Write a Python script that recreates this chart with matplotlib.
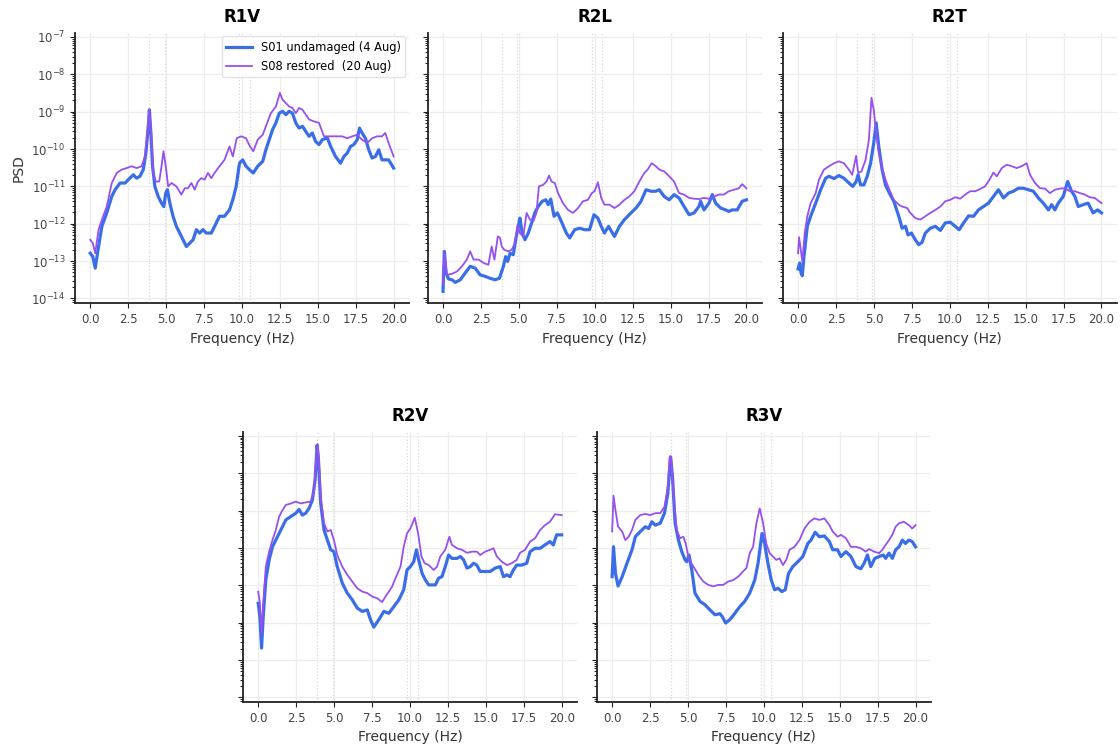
import numpy as np
import matplotlib.pyplot as plt

# values as log10(PSD)
f_r1v_s01 = [0.00, 0.17, 0.33, 0.55, 0.77, 1.09, 1.42, 1.64, 1.97, 2.30, 2.51, 2.84, 3.06, 3.28, 3.50, 3.67,
             3.83, 3.90, 4.00, 4.11, 4.26, 4.48, 4.70, 4.85, 4.98, 5.09, 5.25, 5.46, 5.68, 6.01, 6.34, 6.56,
             6.78, 7.00, 7.21, 7.43, 7.65, 7.98, 8.20, 8.52, 8.85, 9.18, 9.40, 9.62, 9.84, 10.05, 10.27, 10.49,
             10.75, 11.04, 11.37, 11.58, 11.80, 12.02, 12.24, 12.46, 12.68, 12.90, 13.11, 13.33, 13.55, 13.77,
             13.99, 14.21, 14.43, 14.64, 14.86, 15.08, 15.30, 15.63, 15.85, 16.17, 16.50, 16.72, 16.94, 17.16,
             17.38, 17.60, 17.75, 17.92, 18.14, 18.36, 18.58, 18.80, 19.02, 19.23, 19.45, 19.67, 20.00]
lg_r1v_s01 = [-12.79, -12.88, -13.19, -12.61, -12.07, -11.71, -11.27, -11.09, -10.91, -10.91, -10.82, -10.69,
              -10.78, -10.73, -10.55, -10.11, -9.39, -8.95, -9.57, -10.46, -11.00, -11.27, -11.45, -11.54,
              -11.18, -11.09, -11.45, -11.80, -12.07, -12.34, -12.61, -12.52, -12.43, -12.16, -12.25, -12.16,
              -12.25, -12.25, -12.07, -11.80, -11.80, -11.63, -11.36, -11.00, -10.38, -10.29, -10.46, -10.55,
              -10.64, -10.46, -10.33, -10.02, -9.75, -9.48, -9.30, -9.04, -8.99, -9.08, -8.99, -9.04, -9.30,
              -9.44, -9.39, -9.53, -9.66, -9.57, -9.80, -9.88, -9.75, -9.70, -9.93, -10.20, -10.38, -10.20,
              -10.11, -9.93, -9.88, -9.75, -9.44, -9.57, -9.71, -10.02, -10.24, -10.20, -10.02, -10.29, -10.29,
              -10.29, -10.51]
f_r1v_s08 = [0.00, 0.17, 0.33, 0.55, 0.77, 1.09, 1.42, 1.75, 2.08, 2.40, 2.73, 3.06, 3.39, 3.61, 3.76, 3.90,
             4.04, 4.15, 4.33, 4.55, 4.70, 4.83, 4.98, 5.14, 5.36, 5.68, 6.01, 6.23, 6.45, 6.67, 6.89, 7.10,
             7.32, 7.54, 7.76, 7.98, 8.20, 8.52, 8.85, 9.18, 9.40, 9.66, 9.95, 10.27, 10.53, 10.75, 11.04,
             11.37, 11.58, 11.91, 12.24, 12.50, 12.68, 12.90, 13.11, 13.33, 13.55, 13.77, 13.99, 14.21, 14.43,
             14.75, 15.08, 15.41, 15.63, 15.96, 16.28, 16.61, 16.94, 17.27, 17.60, 17.92, 18.25, 18.58, 18.91,
             19.23, 19.45, 19.67, 20.00]
lg_r1v_s08 = [-12.43, -12.52, -12.79, -12.16, -11.89, -11.54, -10.91, -10.64, -10.55, -10.51, -10.46, -10.51,
              -10.46, -10.20, -9.57, -8.95, -9.75, -10.64, -10.87, -10.87, -10.46, -10.06, -10.46, -11.00,
              -10.91, -11.00, -11.22, -11.05, -11.05, -10.91, -11.09, -10.87, -10.78, -10.82, -10.64, -10.78,
              -10.64, -10.46, -10.29, -9.93, -10.20, -9.71, -9.66, -9.71, -9.93, -10.06, -9.75, -9.62, -9.39,
              -9.04, -8.86, -8.50, -8.68, -8.77, -8.86, -8.90, -9.04, -8.90, -8.95, -9.08, -9.21, -9.26, -9.30,
              -9.66, -9.66, -9.66, -9.66, -9.66, -9.71, -9.66, -9.62, -9.75, -9.84, -9.71, -9.66, -9.66, -9.57,
              -9.84, -10.20]

f_r2l_s01 = [0.00, 0.09, 0.20, 0.37, 0.59, 0.81, 1.14, 1.46, 1.79, 2.12, 2.45, 2.78, 3.10, 3.43, 3.72, 3.98,
             4.13, 4.26, 4.42, 4.63, 4.79, 4.96, 5.07, 5.22, 5.40, 5.62, 5.84, 6.05, 6.27, 6.54, 6.78, 6.93,
             7.10, 7.32, 7.54, 7.80, 8.13, 8.35, 8.68, 9.01, 9.33, 9.66, 9.95, 10.21, 10.43, 10.64, 10.91,
             11.30, 11.63, 11.96, 12.39, 12.72, 13.05, 13.38, 13.70, 14.03, 14.25, 14.58, 14.91, 15.23, 15.56,
             15.89, 16.22, 16.55, 16.87, 16.98, 17.20, 17.53, 17.75, 17.97, 18.30, 18.62, 18.84, 19.06, 19.39,
             19.72, 20.00]
lg_r2l_s01 = [-13.81, -12.74, -13.32, -13.48, -13.50, -13.57, -13.50, -13.32, -13.14, -13.19, -13.37, -13.41,
              -13.46, -13.50, -13.46, -13.14, -12.88, -13.01, -12.79, -12.83, -12.43, -12.07, -11.85, -12.25,
              -12.43, -12.25, -11.98, -11.71, -11.54, -11.40, -11.36, -11.49, -11.34, -11.80, -11.71, -11.94,
              -12.25, -12.38, -12.16, -12.12, -12.16, -12.16, -11.76, -11.85, -12.07, -12.25, -12.07, -12.34,
              -12.07, -11.89, -11.71, -11.58, -11.40, -11.09, -11.13, -11.13, -11.09, -11.27, -11.36, -11.22,
              -11.31, -11.54, -11.76, -11.71, -11.54, -11.40, -11.63, -11.45, -11.22, -11.45, -11.58, -11.63,
              -11.67, -11.63, -11.63, -11.40, -11.36]
f_r2l_s08 = [0.00, 0.09, 0.26, 0.59, 0.92, 1.25, 1.57, 1.79, 2.01, 2.34, 2.67, 2.99, 3.21, 3.39, 3.61, 3.76,
             3.87, 4.04, 4.31, 4.52, 4.74, 4.92, 5.07, 5.29, 5.51, 5.73, 5.95, 6.16, 6.32, 6.60, 6.82, 6.99,
             7.15, 7.37, 7.58, 7.91, 8.24, 8.57, 8.90, 9.22, 9.55, 9.81, 9.99, 10.21, 10.43, 10.64, 10.97,
             11.30, 11.63, 11.96, 12.28, 12.61, 12.94, 13.27, 13.49, 13.75, 14.03, 14.25, 14.58, 14.91, 15.23,
             15.56, 15.89, 16.22, 16.55, 16.87, 17.20, 17.53, 17.86, 18.19, 18.51, 18.84, 19.17, 19.50, 19.72,
             20.00]
lg_r2l_s08 = [-13.63, -12.79, -13.37, -13.34, -13.28, -13.14, -12.96, -12.74, -12.96, -12.96, -13.05, -13.10,
              -12.61, -12.96, -12.34, -12.38, -12.61, -12.70, -12.74, -12.70, -12.52, -12.03, -12.25, -12.34,
              -11.71, -11.89, -11.94, -11.71, -11.00, -10.96, -10.87, -10.71, -10.87, -10.91, -11.18, -11.45,
              -11.63, -11.71, -11.58, -11.40, -11.36, -11.18, -11.13, -10.89, -11.31, -11.49, -11.49, -11.58,
              -11.49, -11.36, -11.27, -11.13, -10.87, -10.64, -10.55, -10.38, -10.46, -10.55, -10.60, -10.73,
              -10.87, -11.18, -11.22, -11.31, -11.33, -11.34, -11.31, -11.33, -11.27, -11.22, -11.22, -11.13,
              -11.09, -11.05, -10.94, -11.05]

f_r2t_s01 = [0.00, 0.11, 0.20, 0.28, 0.39, 0.61, 0.83, 1.16, 1.49, 1.82, 2.04, 2.37, 2.69, 3.02, 3.35, 3.61,
             3.83, 3.96, 4.12, 4.34, 4.56, 4.78, 4.99, 5.15, 5.32, 5.54, 5.76, 6.02, 6.31, 6.64, 6.86, 7.08,
             7.25, 7.47, 7.73, 7.95, 8.17, 8.39, 8.72, 9.05, 9.38, 9.70, 10.03, 10.36, 10.62, 10.91, 11.24,
             11.57, 11.89, 12.22, 12.55, 12.88, 13.21, 13.54, 13.87, 14.20, 14.52, 14.85, 15.18, 15.51, 15.84,
             16.17, 16.50, 16.72, 16.93, 17.15, 17.48, 17.77, 18.03, 18.25, 18.47, 18.79, 19.12, 19.45, 19.74,
             20.00]
lg_r2t_s01 = [-13.21, -13.05, -13.32, -13.39, -12.88, -12.07, -11.80, -11.45, -11.09, -10.78, -10.73, -10.79,
              -10.71, -10.78, -10.91, -11.00, -10.87, -10.69, -10.96, -10.96, -10.73, -10.38, -9.84, -9.30,
              -9.93, -10.55, -10.96, -11.18, -11.40, -11.80, -12.12, -12.07, -12.30, -12.25, -12.43, -12.56,
              -12.50, -12.25, -12.12, -12.07, -12.18, -11.98, -11.96, -12.07, -12.16, -11.98, -11.79, -11.80,
              -11.63, -11.54, -11.45, -11.27, -11.09, -11.31, -11.18, -11.13, -11.05, -11.05, -11.09, -11.13,
              -11.31, -11.45, -11.63, -11.49, -11.63, -11.45, -11.27, -10.87, -11.13, -11.27, -11.54, -11.49,
              -11.45, -11.71, -11.63, -11.71]
f_r2t_s08 = [0.00, 0.07, 0.18, 0.28, 0.44, 0.61, 0.83, 1.16, 1.38, 1.71, 2.04, 2.37, 2.69, 3.02, 3.35, 3.57,
             3.83, 3.96, 4.18, 4.45, 4.67, 4.84, 4.99, 5.15, 5.32, 5.54, 5.76, 6.02, 6.31, 6.64, 6.86, 7.19,
             7.40, 7.73, 8.06, 8.39, 8.72, 9.05, 9.38, 9.70, 10.03, 10.36, 10.69, 11.02, 11.35, 11.68, 12.00,
             12.33, 12.62, 12.88, 13.10, 13.43, 13.76, 14.09, 14.41, 14.74, 15.07, 15.29, 15.62, 15.95, 16.28,
             16.60, 16.93, 17.26, 17.59, 17.92, 18.25, 18.58, 18.90, 19.23, 19.56, 20.00]
lg_r2t_s08 = [-12.79, -12.36, -12.70, -13.01, -12.25, -11.80, -11.45, -11.18, -10.82, -10.55, -10.46, -10.38,
              -10.33, -10.38, -10.55, -10.69, -10.18, -10.64, -10.60, -10.29, -9.75, -8.63, -8.95, -9.57,
              -10.11, -10.51, -10.82, -11.09, -11.36, -11.49, -11.54, -11.58, -11.71, -11.85, -11.89, -11.80,
              -11.71, -11.63, -11.54, -11.40, -11.36, -11.29, -11.33, -11.22, -11.13, -11.13, -11.07, -11.00,
              -10.82, -10.63, -10.73, -10.51, -10.42, -10.46, -10.51, -10.46, -10.38, -10.69, -10.91, -11.05,
              -11.06, -11.18, -11.09, -11.06, -11.05, -11.13, -11.13, -11.18, -11.22, -11.29, -11.31, -11.45]

f_r2v_s01 = [0.00, 0.11, 0.22, 0.33, 0.50, 0.72, 0.94, 1.27, 1.60, 1.82, 2.15, 2.48, 2.69, 2.91, 3.13, 3.35,
             3.57, 3.75, 3.88, 3.96, 4.12, 4.34, 4.56, 4.78, 4.99, 5.21, 5.54, 5.87, 6.20, 6.53, 6.86, 7.19,
             7.40, 7.62, 7.95, 8.28, 8.61, 8.94, 9.27, 9.59, 9.81, 10.03, 10.25, 10.43, 10.58, 10.80, 11.02,
             11.24, 11.46, 11.68, 11.89, 12.11, 12.33, 12.55, 12.77, 13.10, 13.32, 13.54, 13.76, 13.98, 14.19,
             14.41, 14.63, 14.96, 15.29, 15.62, 15.95, 16.17, 16.39, 16.60, 16.82, 17.04, 17.37, 17.70, 17.92,
             18.25, 18.58, 18.90, 19.23, 19.45, 19.67, 20.00]
lg_r2v_s01 = [-11.48, -11.84, -12.68, -11.84, -10.86, -10.32, -9.97, -9.70, -9.43, -9.25, -9.16, -9.07, -8.97,
              -9.12, -9.07, -8.94, -8.72, -8.18, -7.25, -7.56, -8.81, -9.52, -9.79, -10.05, -10.10, -10.50,
              -10.94, -11.21, -11.39, -11.61, -11.70, -11.66, -11.92, -12.12, -11.92, -11.70, -11.75, -11.57,
              -11.39, -11.12, -10.59, -10.50, -10.37, -10.05, -10.32, -10.68, -10.86, -10.99, -10.99, -10.99,
              -10.81, -10.77, -10.50, -10.19, -10.28, -10.28, -10.23, -10.32, -10.54, -10.50, -10.41, -10.46,
              -10.63, -10.63, -10.63, -10.54, -10.50, -10.77, -10.72, -10.77, -10.59, -10.46, -10.46, -10.41,
              -10.10, -10.01, -10.01, -9.92, -9.83, -9.92, -9.65, -9.65]
f_r2v_s08 = [0.00, 0.11, 0.22, 0.33, 0.50, 0.72, 0.94, 1.16, 1.38, 1.60, 1.82, 2.15, 2.48, 2.80, 3.13, 3.46,
             3.68, 3.83, 3.92, 4.01, 4.12, 4.34, 4.56, 4.78, 4.99, 5.21, 5.54, 5.87, 6.20, 6.53, 6.86, 7.19,
             7.51, 7.84, 8.17, 8.39, 8.61, 8.83, 9.05, 9.38, 9.59, 9.81, 10.03, 10.32, 10.54, 10.76, 10.97,
             11.24, 11.57, 11.79, 12.00, 12.33, 12.60, 12.77, 13.10, 13.43, 13.76, 14.09, 14.41, 14.63, 14.96,
             15.29, 15.51, 15.73, 16.06, 16.39, 16.71, 17.04, 17.26, 17.59, 17.92, 18.25, 18.58, 18.90, 19.23,
             19.56, 20.00]
lg_r2v_s08 = [-11.17, -11.48, -12.28, -11.48, -10.50, -10.10, -9.79, -9.52, -9.16, -8.99, -8.85, -8.81, -8.76,
              -8.81, -8.78, -8.76, -8.45, -7.56, -7.22, -7.74, -8.63, -9.34, -9.56, -9.52, -9.79, -10.19,
              -10.50, -10.72, -10.90, -11.08, -11.17, -11.21, -11.30, -11.35, -11.45, -11.30, -11.17, -11.03,
              -10.81, -10.50, -9.97, -9.61, -9.48, -9.19, -9.61, -10.23, -10.41, -10.46, -10.59, -10.50, -10.23,
              -10.05, -9.70, -9.92, -10.01, -10.05, -10.13, -10.10, -10.10, -10.19, -10.10, -10.05, -10.01,
              -10.23, -10.37, -10.46, -10.41, -10.32, -10.13, -10.05, -9.83, -9.74, -9.52, -9.39, -9.30, -9.10,
              -9.12]

f_r3v_s01 = [0.00, 0.09, 0.22, 0.39, 0.66, 0.98, 1.31, 1.53, 1.86, 2.19, 2.40, 2.62, 2.84, 3.17, 3.45, 3.67,
             3.85, 3.98, 4.15, 4.37, 4.59, 4.81, 4.92, 5.07, 5.25, 5.46, 5.79, 6.12, 6.45, 6.78, 7.10, 7.26,
             7.48, 7.76, 8.09, 8.42, 8.74, 9.07, 9.40, 9.62, 9.79, 9.88, 10.05, 10.27, 10.49, 10.71, 10.93,
             11.19, 11.41, 11.63, 11.91, 12.24, 12.57, 12.90, 13.11, 13.38, 13.66, 13.99, 14.32, 14.54, 14.86,
             15.08, 15.41, 15.74, 16.07, 16.39, 16.61, 16.83, 17.05, 17.31, 17.60, 17.88, 18.03, 18.25, 18.47,
             18.69, 18.91, 19.13, 19.34, 19.56, 19.78, 20.00]
lg_r3v_s01 = [-10.77, -9.97, -10.68, -11.02, -10.77, -10.41, -10.05, -9.70, -9.56, -9.43, -9.48, -9.30, -9.39,
              -9.34, -9.07, -8.54, -7.56, -8.10, -9.34, -9.79, -10.10, -10.32, -10.37, -10.19, -10.59, -11.21,
              -11.43, -11.52, -11.66, -11.79, -11.76, -11.84, -12.01, -11.92, -11.75, -11.57, -11.43, -11.21,
              -10.86, -10.41, -9.88, -9.61, -9.88, -10.41, -10.86, -11.12, -11.08, -11.17, -11.12, -10.68,
              -10.50, -10.37, -10.23, -9.88, -9.79, -9.58, -9.70, -9.68, -9.83, -10.05, -10.05, -10.23, -10.10,
              -10.23, -10.50, -10.56, -10.41, -10.19, -10.50, -10.28, -10.23, -10.19, -10.28, -10.14, -10.28,
              -10.05, -9.97, -9.79, -9.88, -9.79, -9.83, -9.97]
f_r3v_s08 = [0.00, 0.09, 0.22, 0.39, 0.66, 0.87, 1.09, 1.31, 1.53, 1.86, 2.19, 2.51, 2.84, 3.17, 3.45, 3.67,
             3.80, 3.89, 4.04, 4.26, 4.48, 4.70, 4.85, 5.07, 5.36, 5.68, 6.01, 6.34, 6.67, 6.99, 7.32, 7.65,
             7.98, 8.31, 8.63, 8.85, 9.07, 9.29, 9.51, 9.73, 9.95, 10.16, 10.38, 10.60, 10.82, 11.04, 11.26,
             11.48, 11.69, 12.02, 12.35, 12.68, 13.01, 13.33, 13.66, 13.99, 14.32, 14.54, 14.86, 15.08, 15.41,
             15.74, 16.07, 16.39, 16.72, 16.94, 17.27, 17.60, 17.81, 18.03, 18.25, 18.47, 18.69, 18.91, 19.23,
             19.56, 19.78, 20.00]
lg_r3v_s08 = [-9.56, -8.60, -8.99, -9.43, -9.56, -9.79, -9.70, -9.52, -9.25, -9.12, -9.09, -9.12, -9.07, -9.07,
              -8.90, -8.36, -7.56, -7.56, -8.54, -9.52, -9.74, -9.70, -9.88, -10.32, -10.50, -10.72, -10.90,
              -10.99, -11.03, -10.99, -10.99, -10.90, -10.86, -10.77, -10.63, -10.54, -10.14, -9.97, -9.34,
              -8.94, -9.34, -9.88, -10.14, -10.23, -10.32, -10.28, -10.46, -10.32, -10.05, -9.97, -9.79, -9.48,
              -9.30, -9.21, -9.25, -9.21, -9.39, -9.56, -9.70, -9.65, -9.74, -9.97, -9.97, -10.01, -10.10,
              -10.03, -10.10, -10.14, -10.05, -9.92, -9.79, -9.65, -9.43, -9.34, -9.30, -9.39, -9.48, -9.39]

titles = ['R1V', 'R2L', 'R2T', 'R2V', 'R3V']
series = {
    'R1V': (f_r1v_s01, lg_r1v_s01, f_r1v_s08, lg_r1v_s08),
    'R2L': (f_r2l_s01, lg_r2l_s01, f_r2l_s08, lg_r2l_s08),
    'R2T': (f_r2t_s01, lg_r2t_s01, f_r2t_s08, lg_r2t_s08),
    'R2V': (f_r2v_s01, lg_r2v_s01, f_r2v_s08, lg_r2v_s08),
    'R3V': (f_r3v_s01, lg_r3v_s01, f_r3v_s08, lg_r3v_s08),
}
mode_freqs = [3.9, 4.9, 9.8, 10.5]
label_s01 = 'S01 undamaged (4 Aug)'
label_s08 = 'S08 restored  (20 Aug)'

fig = plt.figure(figsize=(11.2, 7.47), dpi=100)
boxes = [(0.067, 0.594), (0.382, 0.594), (0.699, 0.594), (0.217, 0.060), (0.533, 0.060)]
w, h = 0.298, 0.362

for i, name in enumerate(titles):
    ax = fig.add_axes([boxes[i][0], boxes[i][1], w, h])
    fa, la, fb, lb = series[name]
    ax.plot(fa, 10 ** np.array(la), color='#3a6ee8', lw=2.3, label=label_s01, zorder=3)
    ax.plot(fb, 10 ** np.array(lb), color='#9650f0', lw=1.3, label=label_s08, zorder=3)
    for fm in mode_freqs:
        ax.axvline(fm, color='#d8d8d8', lw=0.9, ls=':', zorder=1)
    ax.set_yscale('log')
    ax.set_ylim(10 ** -14.13, 10 ** -6.89)
    ax.set_xlim(-1.0, 21.0)
    ax.set_xticks(np.arange(0, 20.1, 2.5))
    ax.set_xticklabels([f'{v:.1f}' for v in np.arange(0, 20.1, 2.5)])
    ax.grid(True, which='major', color='#ededed', lw=0.9, zorder=0)
    ax.set_title(name, fontsize=12, fontweight='bold', pad=8)
    ax.set_xlabel('Frequency (Hz)', fontsize=10, color='#333333')
    ax.tick_params(axis='both', labelsize=8.5, colors='#222222', labelcolor='#444444')
    ax.tick_params(axis='y', which='minor', length=2)
    for s in ['top', 'right']:
        ax.spines[s].set_visible(False)
    for s in ['left', 'bottom']:
        ax.spines[s].set_linewidth(1.3)
        ax.spines[s].set_color('#222222')
    if i == 0:
        ax.set_ylabel('PSD', fontsize=10, color='#333333')
        ax.legend(loc='upper right', fontsize=8.3, frameon=True, edgecolor='#dddddd',
                  handlelength=2.2, borderaxespad=0.3)
    else:
        ax.tick_params(axis='y', which='both', labelleft=False)

fig.savefig('out.png', dpi=100)
